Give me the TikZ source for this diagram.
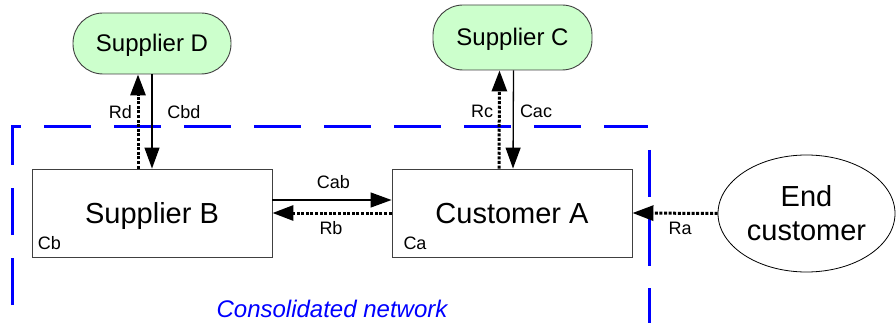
\documentclass[tikz,border=0pt]{standalone}
\usepackage{fontspec}
\setmainfont{Liberation Sans}
\usetikzlibrary{arrows.meta,shapes.geometric}
\definecolor{sgreen}{HTML}{CCFFCC}
\definecolor{bordergray}{HTML}{404040}
\tikzset{
  supplier/.style={draw=bordergray, line width=0.9pt, fill=sgreen, rounded corners=30pt,
    font=\fontsize{24}{28}\selectfont, text height=17pt, text depth=0pt, inner sep=0pt},
  company/.style={draw=bordergray, line width=0.9pt, fill=white, minimum width=240pt, minimum height=88pt,
    font=\fontsize{29}{34}\selectfont, text height=21pt, text depth=0pt, inner sep=0pt},
  endcust/.style={draw=black, line width=0.8pt, ellipse, fill=white, minimum width=177pt, minimum height=117pt,
    font=\fontsize{29}{34}\selectfont, align=center, inner sep=0pt},
  lbl/.style={font=\fontsize{18}{21}\selectfont, anchor=base, inner sep=0pt},
  flow/.style={draw=black, line width=1.3pt, -{Triangle[length=21pt,width=15pt]}},
  money/.style={draw=black, line width=3pt, dash pattern=on 3pt off 1.6pt, -{Triangle[length=21pt,width=15pt]}},
  netline/.style={draw={rgb,255:red,0;green,0;blue,255}, line width=3pt, dash pattern=on 47pt off 23pt},
}
\begin{document}
\begin{tikzpicture}[x=1pt,y=-1pt]
\useasboundingbox (0,0) rectangle (896,323);
% network boundary
\draw[netline] (12,305) -- (12,127) -- (648,127);
\draw[netline, dash pattern=on 47pt off 22pt] (649,150) -- (649,323);
% nodes
\node[supplier, minimum width=158pt, minimum height=61pt] (D) at (152,43.5) {Supplier D};
\node[supplier, minimum width=159pt, minimum height=65pt] (C) at (512.5,37.5) {Supplier C};
\node[company] (B) at (152,213) {Supplier B};
\node[company] (A) at (512,213) {Customer A};
\node[endcust] (E) at (806.5,213.5) {End\\customer};
% connectors
\draw[flow] (D.south) -- (B.north);
\draw[money] ([xshift=-14pt]B.north) -- ([xshift=-14pt]D.south);
\draw[flow] ([xshift=1pt]C.south) -- ([xshift=1pt]A.north);
\draw[money] ([xshift=-13pt]A.north) -- ([xshift=-13pt]C.south);
\draw[flow] ([yshift=13pt]B.east) -- ([yshift=13pt]A.west);
\draw[money] (A.west) -- (B.east);
\draw[money] (E.west) -- (A.east);
% labels
\node[lbl] (lRd) at (120.5,119) {Rd};
\node[lbl] (lCbd) at (184,119) {Cbd};
\node[lbl] (lRc) at (482,118) {Rc};
\node[lbl] (lCac) at (536,118) {Cac};
\node[lbl] (lCab) at (333.5,189) {Cab};
\node[lbl] (lRb) at (331,234) {Rb};
\node[lbl] (lRa) at (680,234) {Ra};
\node[lbl] (lCb) at (49.5,249) {Cb};
\node[lbl] (lCa) at (415,249) {Ca};
\node[font=\fontsize{24}{28}\selectfont\itshape, text={rgb,255:red,0;green,0;blue,255}, anchor=base, inner sep=0pt] (net) at (332,317) {Consolidated network};
\end{tikzpicture}
\end{document}
